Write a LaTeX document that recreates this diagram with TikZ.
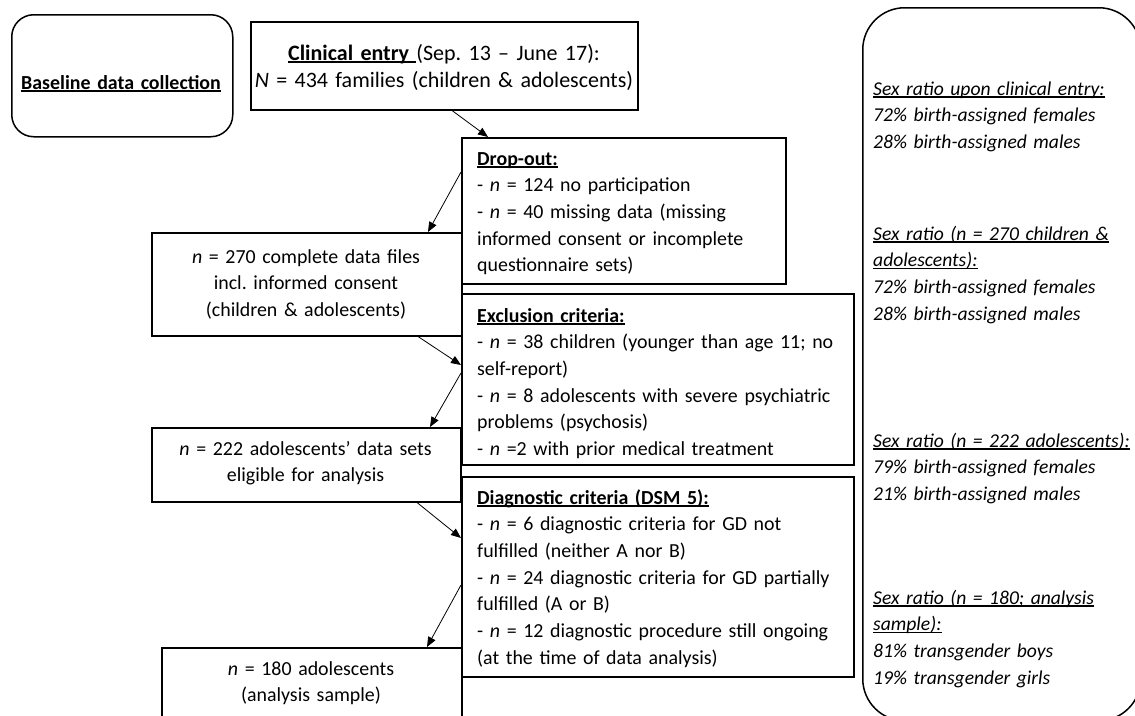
\documentclass[tikz,border=0pt]{standalone}
\usepackage{fontspec}
\setmainfont{Carlito}
\usetikzlibrary{arrows.meta}
\newlength\ulw
\newcommand\myul[1]{\leavevmode\settowidth\ulw{#1}\rlap{\rule[-2.6pt]{\ulw}{1.3pt}}#1}
\frenchspacing
\begin{document}
\begin{tikzpicture}[x=1pt,y=-1pt,
  box/.style={draw, line width=1.5pt, inner sep=0pt, anchor=north west},
  ltext/.style={inner sep=0pt, anchor=base west, align=left, text width=380pt,
    font=\fontsize{19.9pt}{26.7pt}\selectfont\frenchspacing},
  ctext/.style={inner sep=0pt, anchor=base, align=center, text width=390pt,
    font=\fontsize{19.9pt}{26.7pt}\selectfont\frenchspacing},
  ptext/.style={ltext, font=\fontsize{19.6pt}{26.7pt}\selectfont\itshape\frenchspacing},
  conn/.style={line width=0.8pt, -{Triangle[length=10pt,width=8pt]}}
]
\useasboundingbox (0,0) rectangle (1135,715);

% boxes
\node[box, rounded corners=22pt, minimum width=221pt, minimum height=122pt] (base) at (11,14) {};
\node[box, minimum width=387pt, minimum height=88pt] (clin) at (250,21) {};
\node[box, minimum width=324pt, minimum height=146pt] (drop) at (461,137) {};
\node[box, minimum width=310pt, minimum height=103pt] (b270) at (151,232) {};
\node[box, minimum width=392pt, minimum height=171pt] (excl) at (461,293) {};
\node[box, minimum width=309pt, minimum height=74pt] (b222) at (151,427) {};
\node[box, minimum width=392pt, minimum height=200pt] (diag) at (461,476) {};
\node[box, minimum width=300pt, minimum height=90pt] (b180) at (161,647) {};
\node[box, rounded corners=42pt, minimum width=278pt, minimum height=713pt] (panel) at (862,7) {};

% texts
\node[ctext] (baset) at (121,89) {\myul{\textbf{Baseline data collection}}};
\node[ctext, font=\fontsize{22pt}{27pt}\selectfont\frenchspacing] (clint) at (444,60) {\myul{\textbf{Clinical entry} }(Sep. 13 – June 17):\\
  \textit{N} = 434 families (children \& adolescents)};
\node[ltext] (dropt) at (477,165) {\myul{\textbf{Drop-out:}}\\
  - \textit{n} = 124 no participation\\
  - \textit{n} = 40 missing data (missing\\
  informed consent or incomplete\\
  questionnaire sets)};
\node[ctext] (t270) at (306,263) {\textit{n} = 270 complete data files\\
  incl. informed consent\\
  (children \& adolescents)};
\node[ltext] (exclt) at (477,322) {\myul{\textbf{Exclusion criteria:}}\\
  - \textit{n} = 38 children (younger than age 11; no\\
  self-report)\\
  - \textit{n} = 8 adolescents with severe psychiatric\\
  problems (psychosis)\\
  - \textit{n} =2 with prior medical treatment};
\node[ctext] (t222) at (305.5,455) {\textit{n} = 222 adolescents’ data sets\\
  eligible for analysis};
\node[ltext] (diagt) at (477,504) {\myul{\textbf{Diagnostic criteria (DSM 5):}}\\
  - \textit{n} = 6 diagnostic criteria for GD not\\
  fulfilled (neither A nor B)\\
  - \textit{n} = 24 diagnostic criteria for GD partially\\
  fulfilled (A or B)\\
  - \textit{n} = 12 diagnostic procedure still ongoing\\
  (at the time of data analysis)};
\node[ctext] (t180) at (311,675) {\textit{n} = 180 adolescents\\
  (analysis sample)};

\node[ptext] (p1) at (873,95) {\myul{Sex ratio upon clinical entry:}\\
  72\% birth-assigned females\\
  28\% birth-assigned males};
\node[ptext] (p2) at (873,240) {\myul{Sex ratio (n = 270 children \&}\\
  \myul{adolescents):}\\
  72\% birth-assigned females\\
  28\% birth-assigned males};
\node[ptext] (p3) at (873,447) {\myul{Sex ratio (n = 222 adolescents):}\\
  79\% birth-assigned females\\
  21\% birth-assigned males};
\node[ptext] (p4) at (873,604) {\myul{Sex ratio (n = 180; analysis}\\
  \myul{sample):}\\
  81\% transgender boys\\
  19\% transgender girls};

% connectors
\draw[conn] ([xshift=202pt]clin.south west) -- ([xshift=27pt]drop.north west);
\draw[conn] ([yshift=-35pt]drop.north west) -- ([xshift=277pt]b270.north west);
\draw[conn] ([xshift=267pt]b270.south west) -- ([yshift=-72pt]excl.north west);
\draw[conn] ([yshift=-80pt]excl.north west) -- ([xshift=279pt]b222.north west);
\draw[conn] ([xshift=266pt]b222.south west) -- ([yshift=-62pt]diag.north west);
\draw[conn] ([yshift=-109pt]diag.north west) -- ([xshift=266pt]b180.north west);
\end{tikzpicture}
\end{document}
